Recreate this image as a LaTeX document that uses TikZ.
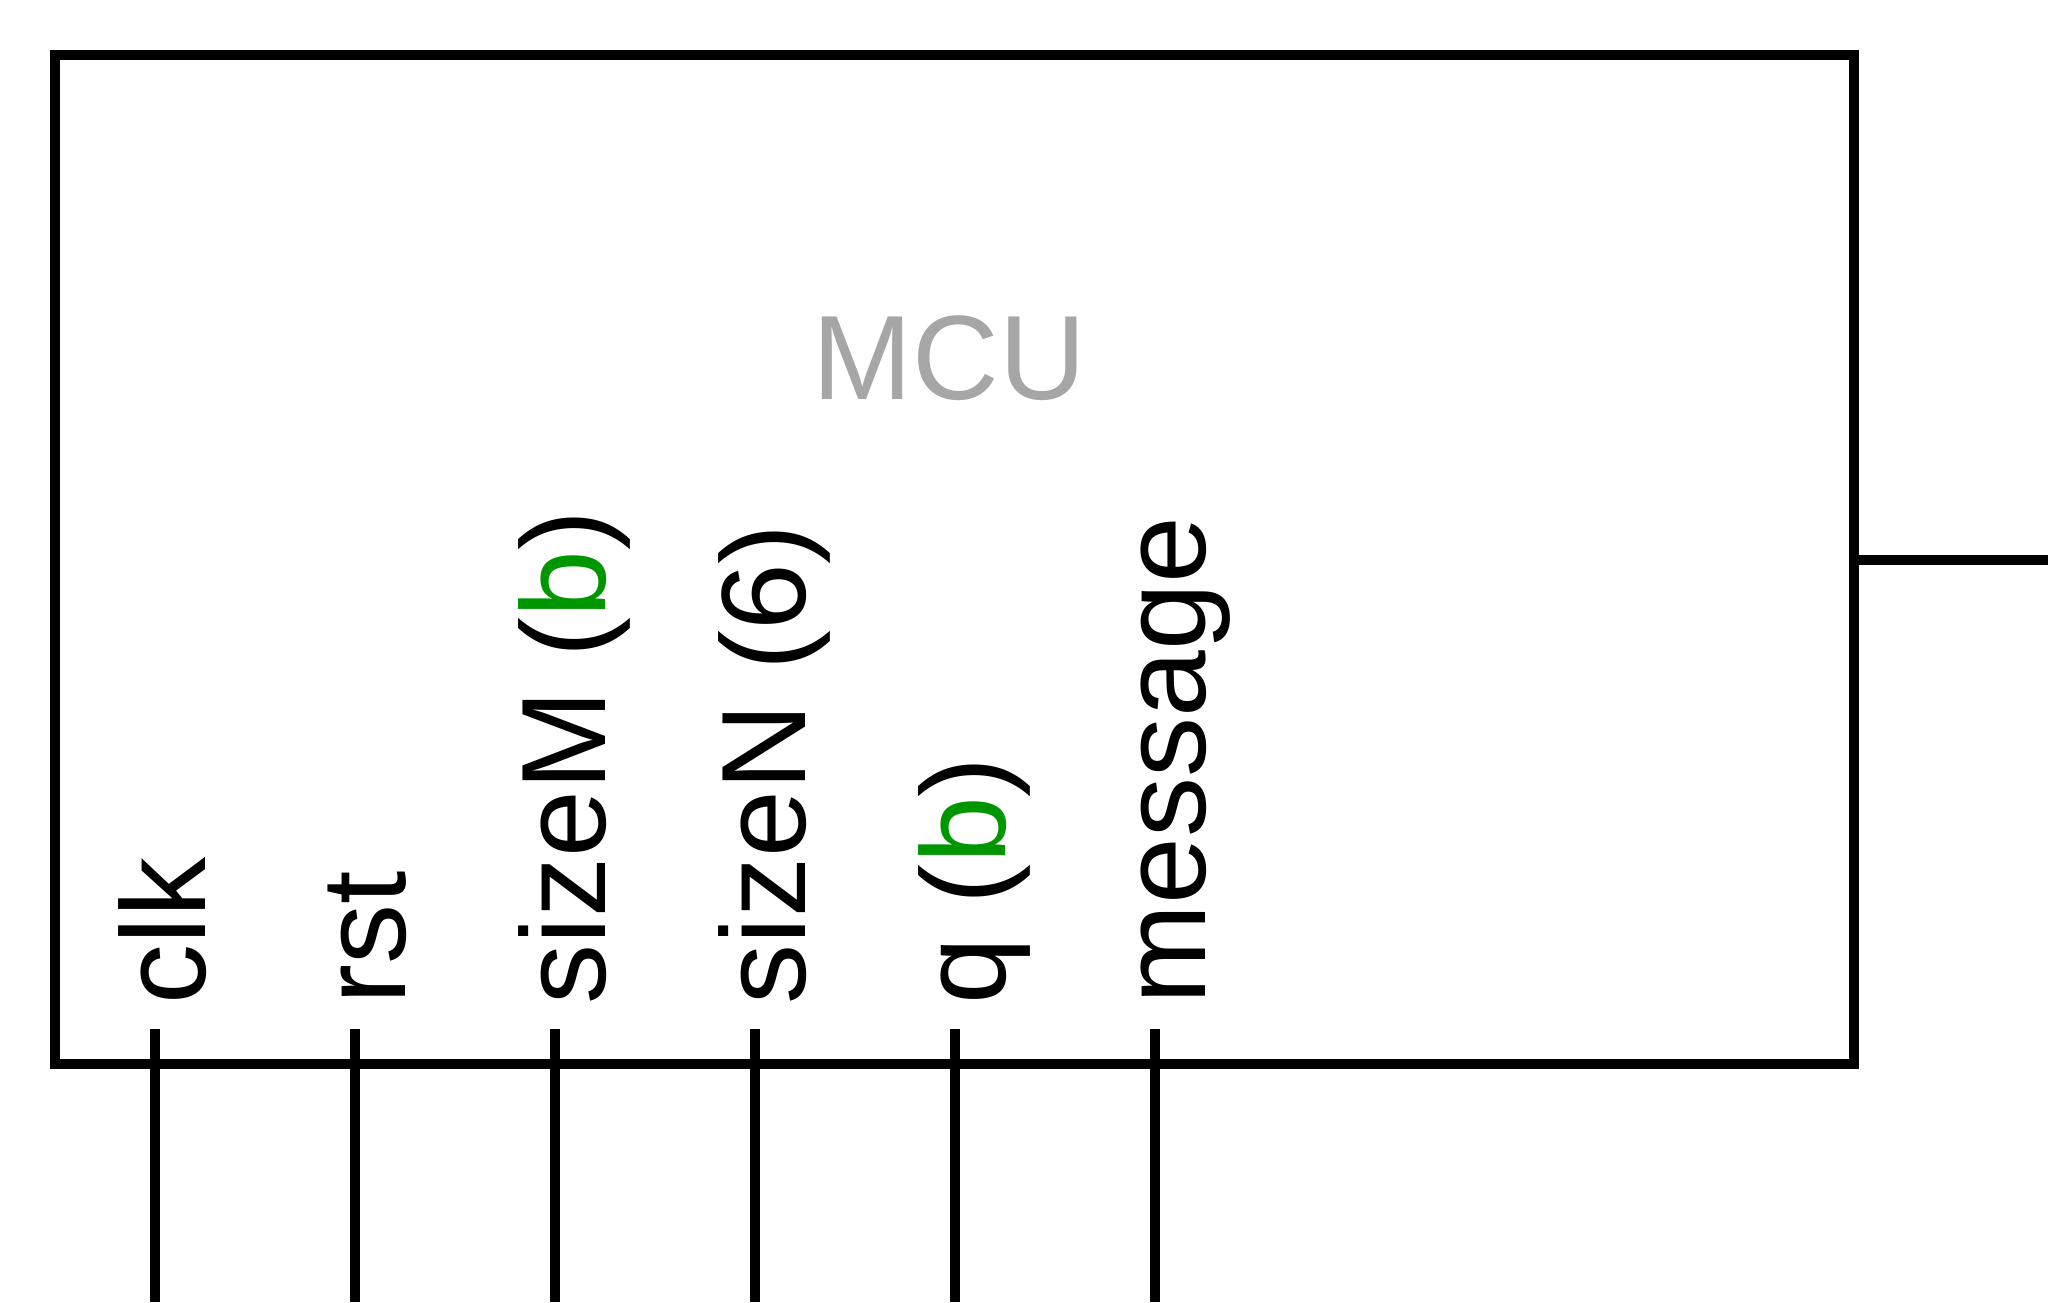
\documentclass[tikz,border=0pt]{standalone}
\usepackage{fontspec}
\setmainfont{Liberation Sans}
\definecolor{pingreen}{RGB}{0,150,0}
\definecolor{mcugray}{RGB}{166,166,166}
\begin{document}
\begin{tikzpicture}[x=0.5pt,y=-0.5pt,
  wire/.style={line width=5pt},
  pinlabel/.style={rotate=90,anchor=base west,inner sep=0pt,outer sep=0pt,font=\fontsize{60}{72}\selectfont},
  blockbox/.style={draw,line width=5pt,inner sep=0pt,outer sep=0pt,minimum width=899.5pt,minimum height=504.5pt,anchor=north west},
]
\useasboundingbox (0,0) rectangle (2048,1302);
\node[blockbox] (mcu) at (55,55) {};
\node[anchor=base,inner sep=0pt,outer sep=0pt,text=mcugray,font=\fontsize{60}{72}\selectfont] (title) at (949.5,399) {MCU};
\coordinate (out) at (2048,559.5);
\draw[wire] (mcu.east) -- (out);
\foreach \i/\x/\t in {1/155/clk,2/355/rst,3/555/{sizeM (\textcolor{pingreen}{b})},4/755/{sizeN (6)},5/955/{q (\textcolor{pingreen}{b})},6/1155/message}{
  \coordinate (pt\i) at (\x,1029);
  \coordinate (pb\i) at (\x,1302);
  \draw[wire] (pt\i) -- (pb\i);
  \node[pinlabel] (lab\i) at (\x+50,1004) {\t};
}
\end{tikzpicture}
\end{document}
